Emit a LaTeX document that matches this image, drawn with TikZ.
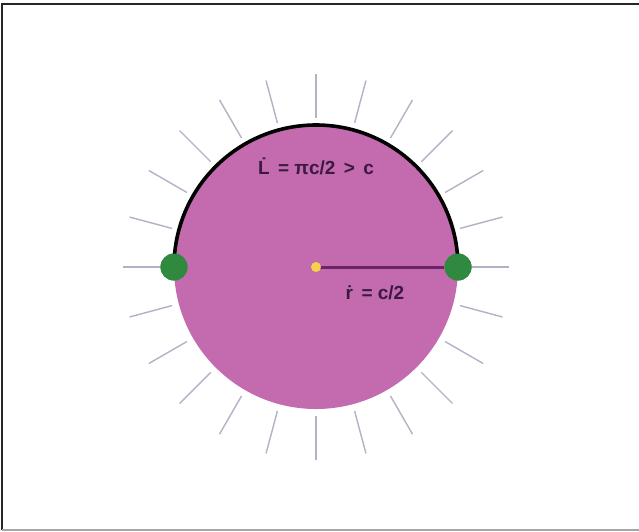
\documentclass[tikz,border=0pt]{standalone}
\usepackage{fontspec}
\setmainfont{Liberation Sans}
\usetikzlibrary{calc}
\begin{document}
\begin{tikzpicture}[x=1pt,y=1pt,
  ray/.style={draw=raygray,line width=1.4pt},
  dotg/.style={circle,fill=dotgreen,minimum size=27pt,inner sep=0pt},
  doty/.style={circle,fill=dotyellow,minimum size=10pt,inner sep=0pt},
  lab/.style={text=labpurple,font=\fontsize{19}{19}\selectfont\bfseries,inner sep=0pt}]
\definecolor{raygray}{HTML}{AEB4C4}
\definecolor{discpink}{HTML}{C46BB0}
\definecolor{dotgreen}{HTML}{2F8A3F}
\definecolor{dotyellow}{HTML}{F6D24A}
\definecolor{labpurple}{HTML}{3A1A40}
\definecolor{radline}{HTML}{6B2468}
\useasboundingbox (0,-531) rectangle (639,0);
\draw[line width=1.6pt,black!85] (2,-530) -- (2,-4) -- (639,-4);
\draw[line width=1.6pt,gray!70] (2,-530) -- (639,-530);
\coordinate (O) at (316,-267);
\foreach \a in {0,15,...,345}
  \draw[ray] ($(O)+(\a:149)$) -- ($(O)+(\a:193)$);
\fill[discpink] (O) circle[radius=142];
\node[dotg] (A) at ($(O)+(180:142)$) {};
\node[dotg] (B) at ($(O)+(0:142)$) {};
\draw[line width=3.6pt,black] (A.center) arc[start angle=180,end angle=0,radius=142];
\node[dotg] at (A) {};
\node[dotg] at (B) {};
\draw[line width=3pt,radline] (O) -- (B.west);
\node[doty] (C) at (O) {};
\node[lab,anchor=base] (L) at (316,-174) {\.{L}\,\ =\ πc/2\ \,>\ \,c};
\node[lab,anchor=base] (R) at (375,-299) {\.{r}\ \,=\ c/2};
\end{tikzpicture}
\end{document}
